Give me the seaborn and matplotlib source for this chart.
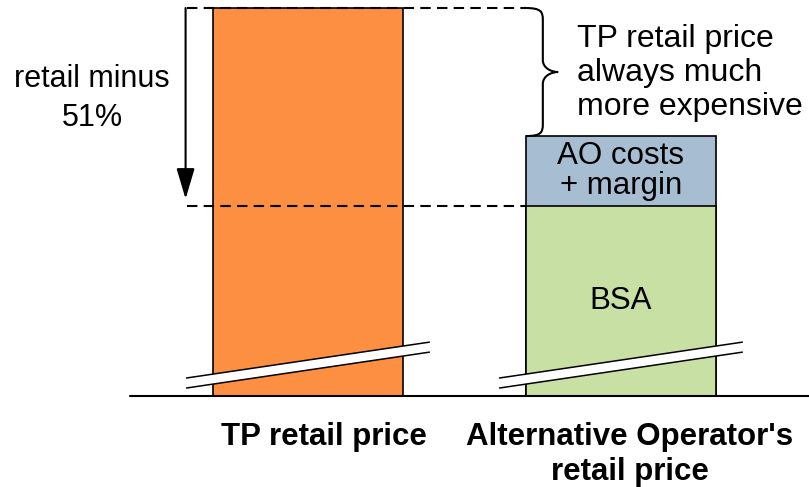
import matplotlib
matplotlib.use("Agg")
import matplotlib.pyplot as plt
from matplotlib.path import Path
from matplotlib.patches import PathPatch, Polygon
from matplotlib.transforms import ScaledTranslation
import seaborn as sns

# Price components (TP retail price = 100)
categories = ["TP retail price", "Alternative Operator's\nretail price"]
tp_retail = 100.0
retail_minus_pct = 51.0
bsa = tp_retail - retail_minus_pct          # 49
ao_costs_margin = 18.0
ao_total = bsa + ao_costs_margin            # 67
totals = [tp_retail, ao_total]

orange = "#FC8F41"
green = "#C9E0A4"
blue = "#A6BDD2"

sns.set_theme(style="white")
plt.rcParams["font.family"] = ["Liberation Sans", "DejaVu Sans"]
plt.rcParams["text.color"] = "black"
plt.rcParams["xtick.color"] = "black"
plt.rcParams["xtick.labelcolor"] = "black"

W, H = 809, 487
fig = plt.figure(figsize=(W / 100, H / 100), dpi=100)
ax = fig.add_axes([0, 91 / H, 1, 396 / H])

bar_w = 0.607
edge = dict(edgecolor="black", linewidth=1.2)

# Full-height bars: TP retail price, AO total (top part shows AO costs + margin)
sns.barplot(x=categories, y=totals, hue=categories, palette=[orange, blue],
            order=categories, width=bar_w, saturation=1, legend=False, ax=ax, **edge)
# BSA portion of the alternative operator's price
sns.barplot(x=[categories[1]], y=[bsa], order=categories, color=green,
            width=bar_w, saturation=1, ax=ax, **edge)

ax.set_xlim(-0.984, 1.601)
ax.set_ylim(0, 102.06)
for s in ax.spines.values():
    s.set_visible(False)
ax.set_yticks([])
ax.set_xlabel("")
ax.set_ylabel("")
ax.tick_params(axis="x", length=0, pad=19, labelcolor="black")
for tick, dx in zip(ax.xaxis.get_major_ticks(), (16, 9)):
    lab = tick.label1
    lab.set_fontsize(22.5)
    lab.set_fontweight("bold")
    lab.set_transform(lab.get_transform() + ScaledTranslation(dx / 100, 0, fig.dpi_scale_trans))

# baseline
ax.plot([-0.569, 1.601], [0, 0], color="black", lw=1.5, clip_on=False, zorder=5)

# dashed reference levels
dash_x0 = -0.387
ax.plot([dash_x0, 1 - bar_w / 2], [tp_retail, tp_retail], color="black", lw=1.5,
        ls=(0, (5, 3)), clip_on=False, zorder=4)
ax.plot([dash_x0, 1 - bar_w / 2], [bsa, bsa], color="black", lw=1.5,
        ls=(0, (5, 3)), clip_on=False, zorder=4)

# "retail minus" arrow
ax.annotate("", xy=(-0.391, bsa + 1.8), xytext=(-0.391, tp_retail),
            arrowprops=dict(arrowstyle="-|>,head_length=0.94,head_width=0.28",
                            mutation_scale=20, lw=1.5, color="black",
                            shrinkA=0, shrinkB=0), zorder=5)
ax.text(-0.69, 76.6, "retail minus\n{:.0f}%".format(retail_minus_pct),
        ha="center", va="center", fontsize=22, linespacing=1.38)

# curly brace between TP price and AO total
bx = 1 - bar_w / 2
d1, d2 = 0.054, 0.103          # brace body and tip offsets
r = 3.1                         # vertical curl size
ymid = tp_retail - 16.5
verts = [
    (bx - 0.003, tp_retail),
    (bx + d1 * 0.9, tp_retail), (bx + d1, tp_retail - r * 0.3), (bx + d1, tp_retail - r),
    (bx + d1, ymid + r),
    (bx + d1, ymid + r * 0.3), (bx + d2 * 0.8, ymid), (bx + d2, ymid),
    (bx + d2 * 0.8, ymid), (bx + d1, ymid - r * 0.3), (bx + d1, ymid - r),
    (bx + d1, ao_total + r),
    (bx + d1, ao_total + r * 0.3), (bx + d1 * 0.9, ao_total), (bx, ao_total),
]
codes = [Path.MOVETO,
         Path.CURVE4, Path.CURVE4, Path.CURVE4,
         Path.LINETO,
         Path.CURVE4, Path.CURVE4, Path.CURVE4,
         Path.CURVE4, Path.CURVE4, Path.CURVE4,
         Path.LINETO,
         Path.CURVE4, Path.CURVE4, Path.CURVE4]
ax.add_patch(PathPatch(Path(verts, codes), fill=False, lw=1.5, edgecolor="black",
                       clip_on=False, zorder=5))
ax.text(0.859, 83.3, "TP retail price\nalways much\nmore expensive",
        ha="left", va="center", fontsize=23, linespacing=1.18)

# labels inside the stacked bar
ax.text(1, (bsa + ao_total) / 2, "AO costs\n+ margin", ha="center", va="center",
        fontsize=22.5, linespacing=1.0, zorder=6)
ax.text(1, bsa / 2, "BSA", ha="center", va="center", fontsize=22.5, zorder=6)

# axis-break strips across both bars
half = 0.388
y_lo_left, y_lo_right = 2.06, 11.3
gap = 2.58
for xc in (0, 1):
    xl, xr = xc - half, xc + half
    poly = Polygon([(xl, y_lo_left), (xr, y_lo_right),
                    (xr, y_lo_right + gap), (xl, y_lo_left + gap)],
                   closed=True, facecolor="white", edgecolor="none", zorder=6)
    ax.add_patch(poly)
    ax.plot([xl, xr], [y_lo_left, y_lo_right], color="black", lw=1.1, zorder=7)
    ax.plot([xl, xr], [y_lo_left + gap, y_lo_right + gap], color="black", lw=1.1, zorder=7)

fig.savefig("out.png", dpi=100)
